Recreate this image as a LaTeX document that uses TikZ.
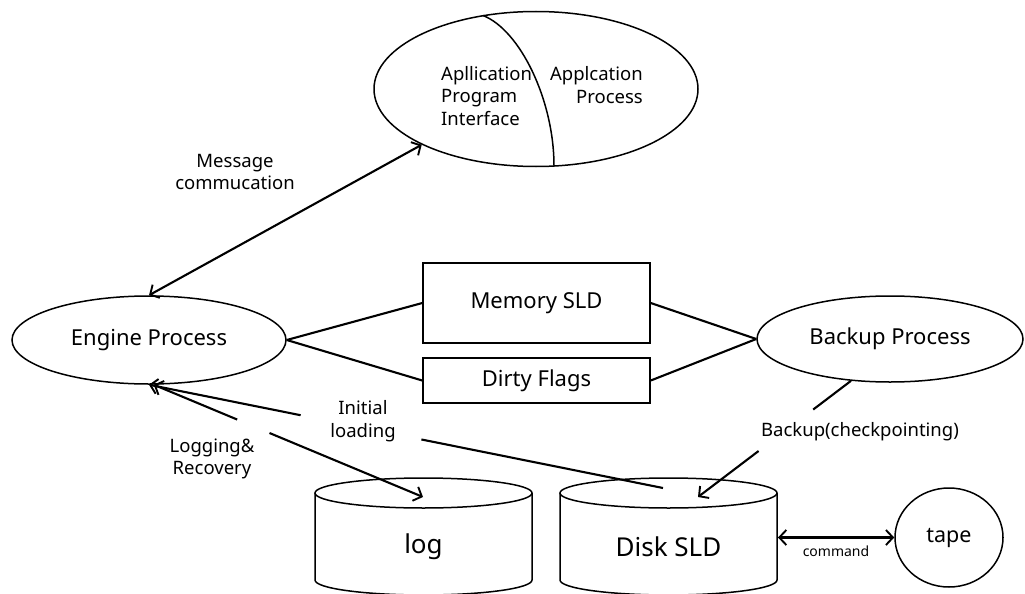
\documentclass[tikz,border=0pt]{standalone}
\usepackage{fontspec}
\setmainfont{Noto Sans}
\usetikzlibrary{calc,arrows.meta,shapes.geometric}
\begin{document}
\begin{tikzpicture}[x=1pt,y=-1pt,
  shp/.style={draw, line width=1.5pt},
  conn/.style={line width=2.1pt},
  >={Straight Barb[length=7pt,width=15pt,line width=1.9pt]},
  nodetxt/.style={font=\fontsize{22}{26}\selectfont},
  lbl/.style={font=\fontsize{18.5}{22.5}\selectfont, align=center, inner sep=0pt},
  cyltxt/.style={font=\fontsize{26}{30}\selectfont},
  cyl/.pic={
    \draw[shp] (-108.5,0) -- (-108.5,87)
      arc[start angle=180, end angle=360, x radius=108.5pt, y radius=15pt]
      -- (108.5,0);
    \draw[shp] (0,0) ellipse[x radius=108.5pt, y radius=15pt];
  }]
\useasboundingbox (0,0) rectangle (1025,594);

% top ellipse
\node[shp, ellipse, minimum width=324pt, minimum height=155pt, inner sep=0pt] (app) at (536,89) {};
\draw[shp] (483,15.5) .. controls (520,30) and (554,100) .. (554,166);
\node[lbl, align=left, anchor=west] (api) at (441,96) {Apllication\\Program\\Interface};
\node[lbl, align=right, anchor=east] (aproc) at (643,85) {Applcation\\Process};

% main nodes
\node[shp, ellipse, minimum width=274pt, minimum height=88pt, inner sep=0pt, nodetxt] (ep) at (149,340) {Engine Process};
\node[shp, rectangle, minimum width=227pt, minimum height=80pt, inner sep=0pt, nodetxt] (mem) at (536.5,303) {Memory SLD};
\node[shp, rectangle, minimum width=227pt, minimum height=45pt, inner sep=0pt, nodetxt] (dirty) at (536.5,380.5) {Dirty Flags};
\node[shp, ellipse, minimum width=266pt, minimum height=86pt, inner sep=0pt, nodetxt] (bp) at (890,339) {Backup Process};
\node[shp, ellipse, minimum width=108pt, minimum height=99pt, inner sep=0pt, font=\fontsize{21.5}{26}\selectfont] (tape) at (949,537.5) {tape};

% cylinders
\pic at (423.5,493) {cyl};
\pic at (668.5,493) {cyl};
\node[cyltxt] (log) at (423.5,547) {log};
\node[cyltxt] (disk) at (668.5,547) {Disk SLD};
\coordinate (login) at (423,497);
\coordinate (diskin) at (663,488);
\coordinate (diskbk) at (698,497);
\coordinate (diskr) at (778,537.5);

% connectors
\draw[conn] (ep.east) -- (mem.west);
\draw[conn] (ep.east) -- (dirty.west);
\draw[conn] (mem.east) -- (bp.west);
\draw[conn] (dirty.east) -- (bp.west);

\draw[conn,<->] (ep.north) -- (app.206);
\node[lbl] (msg) at (235,172) {Message\\commucation};

\draw[conn,<-] (ep.south) -- ($(ep.south)!0.295!(diskin)$);
\draw[conn] ($(ep.south)!0.53!(diskin)$) -- (diskin);
\node[lbl] (init) at (363,421) {Initial\\loading};

\draw[conn,<-] (ep.-84) -- ($(ep.-84)!0.31!(login)$);
\draw[conn,->] ($(ep.-84)!0.43!(login)$) -- (login);
\node[lbl] (logrec) at (212,459) {Logging\&\\Recovery};

\draw[conn] (bp.-133) -- ($(bp.-133)!0.247!(diskbk)$);
\draw[conn,->] ($(bp.-133)!0.604!(diskbk)$) -- (diskbk);
\node[lbl] (bkl) at (860,432) {Backup(checkpointing)};

\draw[conn,<->] (diskr) -- (tape.west);
\node[font=\fontsize{14}{16}\selectfont, inner sep=0pt] (cmd) at (836,551) {command};
\end{tikzpicture}
\end{document}
